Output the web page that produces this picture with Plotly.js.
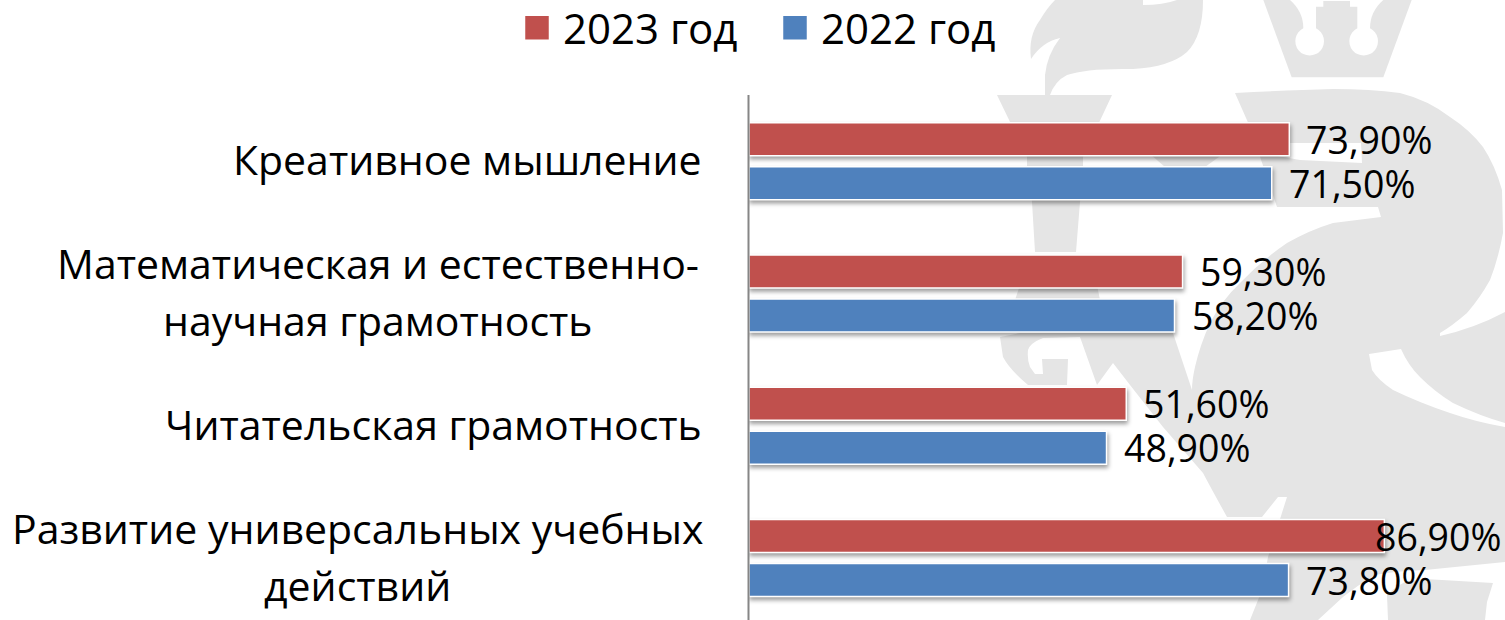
<!DOCTYPE html>
<html><head><meta charset="utf-8">
<script src="https://cdn.plot.ly/plotly-3.0.1.min.js"></script>
<style>
html,body{margin:0;padding:0;background:#fff;overflow:hidden}
#chart{width:1505px;height:620px}
.barlayer .point path{filter:drop-shadow(1px 3px 2px rgba(0,0,0,.38))}
.legend{translate:0 -6px}
</style></head><body><div id="chart"></div>
<script>
const categories = ["Развитие универсальных учебных<br>действий","Читательская грамотность","Математическая и естественно-<br>научная грамотность","Креативное мышление"];
const values2023 = [86.9,51.6,59.3,73.9];
const values2022 = [73.8,48.9,58.2,71.5];
const seriesNames = ["2022 год","2023 год"];
const colors = ["#4F81BD","#C0504D"];
const FONT = "Open Sans, sans-serif";
const GREY = "#e5e5e5";

const emblem = `<svg xmlns="http://www.w3.org/2000/svg" width="1505" height="620" viewBox="0 0 1505 620">
<g fill="${GREY}">
<path d="M1045,95 L1045,75 Q1047,55 1060,38 Q1042,42 1031,59 Q1028,36 1040,20 Q1047,8 1055,0 L1203,0 Q1203,36 1187,52 Q1170,67 1133,69 Q1087,68 1067,75 Q1055,81 1050,95Z"/>
<path d="M997,95 L1112,95 L1083,157 L1083,166 L1080,202 L1076,252 L1035,252 L1032,202 L1027,166 L1027,157Z"/>
<path d="M1150,154 L1223,154 L1205,167 L1165,167Z"/>
<path d="M1020,285 L1097,285 L1100,300 L1015,300Z"/>
<path d="M1235,93 Q1290,90 1333,89 Q1370,89 1400,93 Q1428,100 1450,117 Q1470,130 1483,147 Q1495,165 1502,190 L1503,233 Q1498,260 1490,280 Q1480,298 1467,313 Q1452,326 1440,333 L1440,336 Q1475,328 1505,312 L1505,562 L1425,570 Q1395,571 1375,575 Q1358,585 1343,597 L1318,620 L1250,620 L1262,590 L1268,557 L1287,497 L1278,497 L1262,517 L1227,517 Q1212,490 1203,473 L1163,427 L1130,385 L1113,363 L1097,385 L1080,337 L1043,338 Q1030,343 1028,350 Q1027,360 1030,367 L1035,374 L1043,374 L1042,359 L1068,359 L1067,385 L1028,385 Q1010,370 1003,357 L1000,337 L1020,333 L1173,333 L1192,390 Q1192,380 1195,367 Q1200,345 1210,323 Q1222,300 1240,283 Q1262,260 1287,243 Q1310,230 1333,223 L1381,217 L1378,207 L1277,207 L1250,127Z"/>
<path d="M1388,620 L1387,595 Q1395,587 1405,582 L1425,579 L1493,583 L1487,602 L1485,620Z"/>
</g>
<g fill="#fff">
<path d="M1143,0 L1143,5 Q1163,5 1177,0Z"/>
<path d="M1289,143 L1361,143 L1362,163 L1300,160 L1272,155Z"/>
<path d="M1369,354 L1401,349 Q1408,365 1420,377 Q1435,392 1453,403 Q1480,416 1505,423 L1505,427 Q1476,422 1450,413 Q1420,403 1393,390 Q1378,380 1372,370Z"/>
</g>
<g transform="translate(1240,0) scale(.33333)">
<path fill="${GREY}" d="M70,0 L155,232 L430,232 L515,0Z"/>
<path fill="#fff" d="M150,0 Q190,35 190,85 A43,43 0 1 0 228,85 L228,20 L250,20 L250,3 L330,3 L330,20 L352,20 L352,85 A43,43 0 1 0 390,85 Q390,35 430,0Z"/>
</g>
</svg>`;

const traces = [values2022, values2023].map((v,i)=>({
  type:"bar", orientation:"h", name:seriesNames[i], y:categories, x:v,
  marker:{color:colors[i], line:{color:"#ffffff", width:1.5}}, hoverinfo:"skip"
}));

const anns = [];
const blockWidth = {0:694,2:652};
categories.forEach((c,i)=>{
  const lines = c.split("<br>");
  lines.forEach((ln,j)=>{
    const multi = lines.length>1;
    anns.push({xref:"paper", yref:"y", x:(704-749)/756, xshift: multi? -blockWidth[i]/2:0, y:i,
      yshift: (multi ? (j===0?28.5:-28.5):0)+2, xanchor: multi?"center":"right", yanchor:"middle",
      text:ln, showarrow:false, font:{family:FONT,size:41,color:"#000"}});
  });
});
[[values2022,-1],[values2023,1]].forEach(([vals,s])=>{
  vals.forEach((v,i)=>{
    anns.push({xref:"x", yref:"y", x:v, y:i, xanchor:"left", yanchor:"middle",
      xshift: v===86.9?-11:15, yshift:s*22,
      text:v.toFixed(2).replace(".",",")+"%", showarrow:false, font:{family:FONT,size:37.5,color:"#000"}});
  });
});

const layout = {
  width:1505, height:620, margin:{l:749,r:0,t:95,b:0,pad:0},
  paper_bgcolor:"#fff", plot_bgcolor:"rgba(0,0,0,0)",
  barmode:"group", bargap:0.335, bargroupgap:0.25,
  font:{family:FONT,color:"#000"},
  xaxis:{range:[0,103.4], visible:false, fixedrange:true},
  yaxis:{type:"category", categoryorder:"array", categoryarray:categories, range:[-0.4686,3.5],
    showticklabels:false, ticks:"", showgrid:false, zeroline:false, showline:false, fixedrange:true},
  shapes:[{type:"line", xref:"paper", yref:"paper", x0:-0.5/756,x1:-0.5/756,y0:0,y1:1, line:{color:"#868686",width:2}}],
  annotations:anns,
  legend:{orientation:"h", x:(511-749)/756, xanchor:"left", y:1+95/525, yanchor:"top", traceorder:"reversed",
    font:{family:FONT,size:42,color:"#000"}, itemwidth:42, entrywidth:201, entrywidthmode:"pixels",
    bgcolor:"rgba(0,0,0,0)", itemclick:false, itemdoubleclick:false},
  images:[{source:"data:image/svg+xml;charset=utf-8,"+encodeURIComponent(emblem), xref:"paper", yref:"paper",
    x:-749/756, y:1+95/525, sizex:1505/756, sizey:620/525, sizing:"stretch", xanchor:"left", yanchor:"top", layer:"below"}],
  showlegend:true
};
Plotly.newPlot("chart",traces,layout,{displayModeBar:false,responsive:false}).then(()=>{
  document.querySelectorAll(".legend .legendbar path, .legend .legendpoints path").forEach(p=>{
    p.setAttribute("d","M12.5,12.5H-12.5V-12.5H12.5Z");
  });
});
</script></body></html>
